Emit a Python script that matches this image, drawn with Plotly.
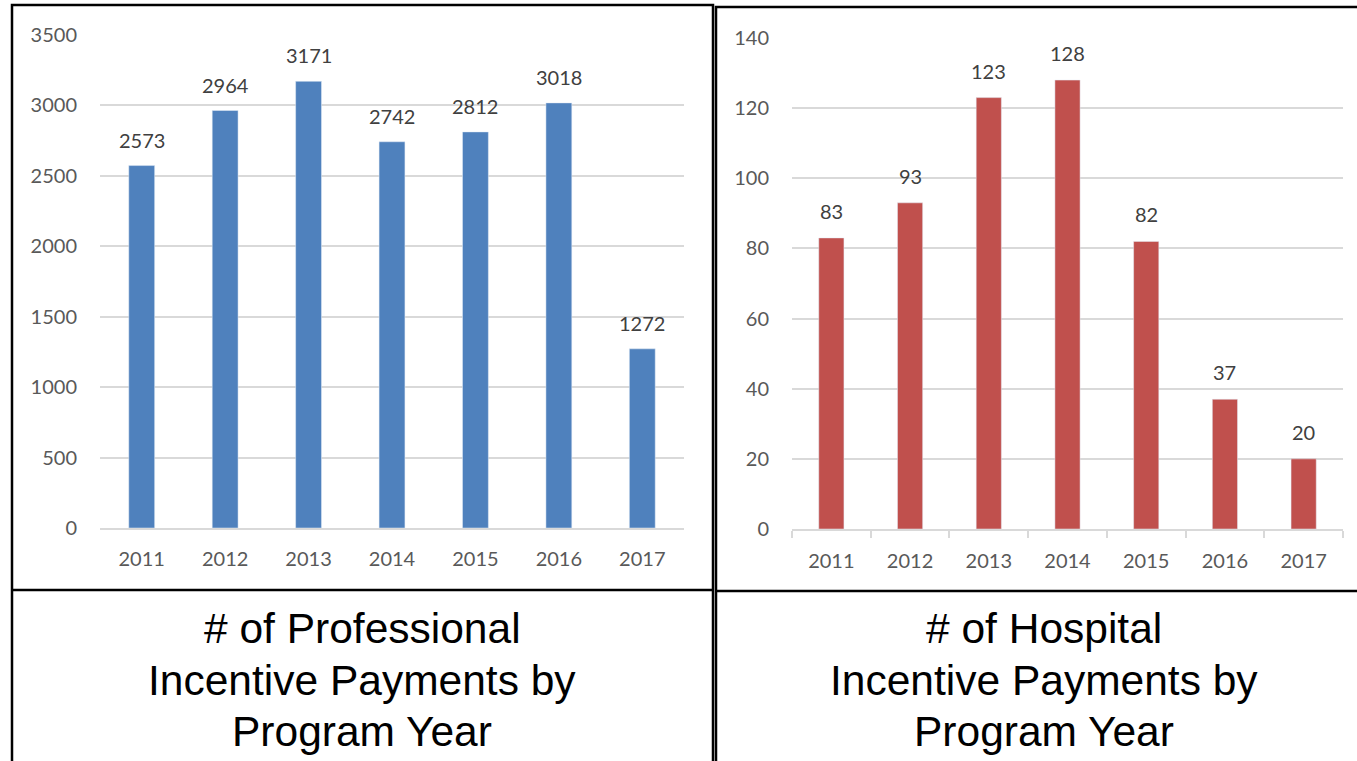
import plotly.graph_objects as go

years = ["2011", "2012", "2013", "2014", "2015", "2016", "2017"]
professional = [2573, 2964, 3171, 2742, 2812, 3018, 1272]
hospital = [83, 93, 123, 128, 82, 37, 20]
caption_left = ["# of Professional", "Incentive Payments by", "Program Year"]
caption_right = ["# of Hospital", "Incentive Payments by", "Program Year"]

W, H = 1357, 761
def px(x):
    return x / W
def py(y):
    return 1 - y / H

tick_font = dict(family="Lato, Carlito, sans-serif", size=20, color="#595959")
label_font = dict(family="Lato, Carlito, sans-serif", size=20, color="#404040")
cap_font = dict(family="Liberation Sans, Arial, sans-serif", size=42.5, color="black")
grid = "#d9d9d9"

fig = go.Figure()
fig.add_trace(go.Bar(x=years, y=professional, marker_color="#4F81BD", width=0.31,
                     xaxis="x", yaxis="y", showlegend=False, hoverinfo="x+y"))
fig.add_trace(go.Bar(x=years, y=hospital, marker_color="#C0504D", width=0.32,
                     xaxis="x2", yaxis="y2", showlegend=False, hoverinfo="x+y"))

annotations = []
for i, v in enumerate(professional):
    annotations.append(dict(x=i, y=v, xref="x", yref="y", text=str(v), showarrow=False,
                            yanchor="middle", yshift=26, font=label_font))
for i, v in enumerate(hospital):
    annotations.append(dict(x=i, y=v, xref="x2", yref="y2", text=str(v), showarrow=False,
                            yanchor="middle", yshift=27, font=label_font))
for line, yy in zip(caption_left, [628, 680, 731]):
    annotations.append(dict(text=line, xref="paper", yref="paper", x=px(362), y=py(yy),
                            xanchor="center", yanchor="middle", showarrow=False, font=cap_font))
for line, yy in zip(caption_right, [628, 680, 731]):
    annotations.append(dict(text=line, xref="paper", yref="paper", x=px(1044), y=py(yy),
                            xanchor="center", yanchor="middle", showarrow=False, font=cap_font))

n = len(years)
fig.update_layout(
    width=W, height=H, margin=dict(l=0, r=0, t=0, b=0, pad=0),
    paper_bgcolor="white", plot_bgcolor="white",
    xaxis=dict(type="category", range=[-0.5, n - 0.5], domain=[px(100), px(684)], anchor="y",
               tickfont=tick_font, showline=True, linecolor=grid, linewidth=2, ticks="",
               showgrid=False, ticklabelstandoff=12, automargin=False, fixedrange=True),
    yaxis=dict(domain=[py(528), py(35)], anchor="x", range=[0, 3500], dtick=500,
               tickfont=tick_font, gridcolor=grid, gridwidth=1.5, zeroline=False,
               showline=False, ticklabelstandoff=22, automargin=False, fixedrange=True),
    xaxis2=dict(type="category", range=[-0.5, n - 0.5], domain=[px(792), px(1343)], anchor="y2",
                tickfont=tick_font, showline=True, linecolor=grid, linewidth=2, ticks="outside",
                tickson="boundaries", ticklen=7, tickcolor=grid, tickwidth=2,
                showgrid=False, ticklabelstandoff=13, automargin=False, fixedrange=True),
    yaxis2=dict(domain=[py(529), py(38)], anchor="x2", range=[0, 140], dtick=20,
                tickfont=tick_font, gridcolor=grid, gridwidth=1.5, zeroline=False,
                showline=False, ticklabelstandoff=22, automargin=False, fixedrange=True),
    shapes=[
        dict(type="rect", xref="paper", yref="paper", x0=px(12), x1=px(713),
             y0=py(775), y1=py(5), line=dict(color="black", width=2.5)),
        dict(type="line", xref="paper", yref="paper", x0=px(12), x1=px(713),
             y0=py(590), y1=py(590), line=dict(color="black", width=2.5)),
        dict(type="rect", xref="paper", yref="paper", x0=px(716), x1=px(1370),
             y0=py(775), y1=py(7), line=dict(color="black", width=2.5)),
        dict(type="line", xref="paper", yref="paper", x0=px(716), x1=px(1357),
             y0=py(591), y1=py(591), line=dict(color="black", width=2.5)),
    ],
    annotations=annotations,
)

fig.write_html("out.html", config={"displayModeBar": False},
               post_script="document.body.style.margin='0';document.body.style.overflow='hidden';")
